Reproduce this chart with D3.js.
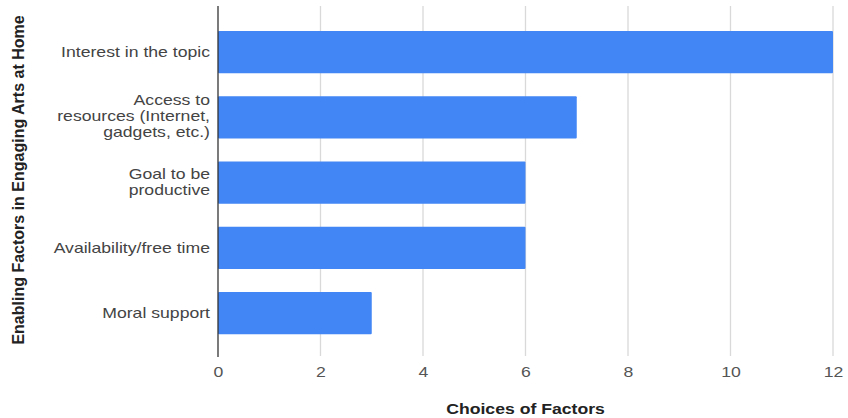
<!DOCTYPE html>
<html>
<head>
<meta charset="utf-8">
<script src="https://cdn.jsdelivr.net/npm/d3@7"></script>
<style>
  html, body { margin: 0; padding: 0; background: #fff; }
  svg { display: block; font-family: "Liberation Sans", Arial, sans-serif; }
</style>
</head>
<body>
<svg id="chart" width="848" height="418"></svg>
<script>
// Enabling factors and how many respondents chose each
const categories = [
  ["Interest in the topic"],
  ["Access to", "resources (Internet,", "gadgets, etc.)"],
  ["Goal to be", "productive"],
  ["Availability/free time"],
  ["Moral support"]
];
const counts = [12, 7, 6, 6, 3];
const xTicks = [0, 2, 4, 6, 8, 10, 12];
const xTitle = "Choices of Factors";
const yTitle = "Enabling Factors in Engaging Arts at Home";

const svg = d3.select("#chart");
const plotL = 218, plotR = 833, plotT = 6, plotB = 356;
const wide = "scale(1.26,1)"; // horizontal text is drawn slightly widened

const keys = categories.map(c => c.join(" "));
const x = d3.scaleLinear().domain([0, 12]).range([plotL, plotR]);
const y = d3.scaleBand().domain(keys).range([19.5, 345.75])
  .paddingInner(0.356).paddingOuter(0.178);

// vertical gridlines
svg.append("g").selectAll("line").data(xTicks.filter(t => t !== 0)).join("line")
  .attr("x1", d => x(d)).attr("x2", d => x(d))
  .attr("y1", plotT).attr("y2", plotB)
  .attr("stroke", "#d9d9d9").attr("stroke-width", 1.3);

// bars
svg.append("g").selectAll("rect").data(counts).join("rect")
  .attr("x", x(0))
  .attr("y", (d, i) => y(keys[i]))
  .attr("width", d => x(d) - x(0))
  .attr("height", y.bandwidth())
  .attr("rx", 1)
  .attr("fill", "#4285f4");

// baseline
svg.append("line")
  .attr("x1", x(0)).attr("x2", x(0))
  .attr("y1", plotT).attr("y2", plotB + 1)
  .attr("stroke", "#333").attr("stroke-width", 1.3);

// x tick labels
const xAxis = d3.axisBottom(x).tickValues(xTicks).tickSize(0).tickPadding(0);
const gx = svg.append("g").attr("transform", `translate(0,${plotB + 16})`).call(xAxis);
gx.select(".domain").remove();
gx.selectAll("text")
  .attr("font-family", "Liberation Sans, Arial, sans-serif")
  .attr("font-size", 14).attr("fill", "#555")
  .attr("y", 0).attr("dy", "0.35em")
  .attr("transform", wide);

// category labels
const lineH = 16;
svg.append("g").selectAll("text").data(categories).join("text")
  .attr("text-anchor", "end")
  .attr("font-size", 14).attr("fill", "#444")
  .attr("transform", (lines, i) =>
    `translate(210,${y(keys[i]) + y.bandwidth() / 2 - (lines.length > 1 ? 1 : 0)}) ${wide}`)
  .each(function(lines) {
    const t = d3.select(this);
    lines.forEach((ln, j) => {
      t.append("tspan").attr("x", 0)
        .attr("y", (j - (lines.length - 1) / 2) * lineH)
        .attr("dy", "0.35em").text(ln);
    });
  });

// axis titles
svg.append("text")
  .attr("transform", `translate(${(plotL + plotR) / 2},409) ${wide}`)
  .attr("dy", "0.35em")
  .attr("text-anchor", "middle").attr("font-size", 14).attr("font-weight", "bold")
  .attr("fill", "#222").text(xTitle);

svg.append("text")
  .attr("transform", `translate(18,180) rotate(-90)`)
  .attr("dy", "0.35em")
  .attr("text-anchor", "middle").attr("font-size", 16).attr("font-weight", "bold")
  .attr("fill", "#222").text(yTitle);
</script>
</body>
</html>
